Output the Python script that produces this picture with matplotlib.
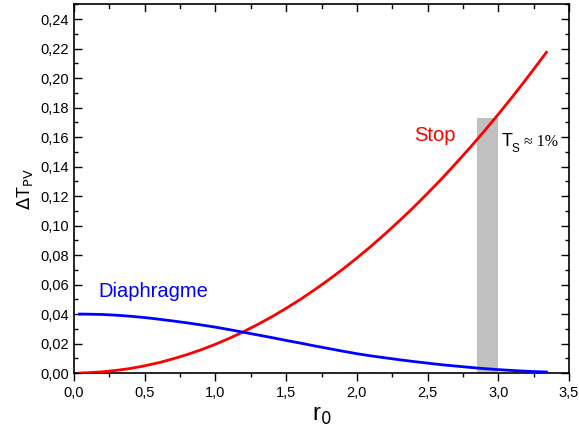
import numpy as np
import matplotlib.pyplot as plt
from matplotlib.ticker import MultipleLocator, FuncFormatter

plt.rcParams['font.family'] = ['Liberation Sans', 'DejaVu Sans']

# r0 positions where the curves were read
r0 = [0.04, 0.1, 0.2, 0.3, 0.4, 0.5, 0.6, 0.7, 0.8, 0.9, 1.0, 1.1, 1.2,
      1.3, 1.4, 1.5, 1.6, 1.7, 1.8, 1.9, 2.0, 2.1, 2.2, 2.3, 2.4, 2.5,
      2.6, 2.7, 2.8, 2.9, 3.0, 3.1, 3.2, 3.3, 3.34]
stop = [0.0000, 0.0002, 0.0008, 0.0018, 0.0031, 0.0049, 0.0070, 0.0096,
        0.0125, 0.0158, 0.0195, 0.0236, 0.0281, 0.0330, 0.0382, 0.0439,
        0.0499, 0.0564, 0.0632, 0.0704, 0.0780, 0.0860, 0.0944, 0.1032,
        0.1123, 0.1219, 0.1318, 0.1422, 0.1529, 0.1640, 0.1755, 0.1874,
        0.1997, 0.2124, 0.2175]
diaphragme = [0.0400, 0.0399, 0.0397, 0.0392, 0.0385, 0.0376, 0.0365,
              0.0353, 0.0340, 0.0326, 0.0311, 0.0294, 0.0276, 0.0258,
              0.0240, 0.0221, 0.0203, 0.0184, 0.0166, 0.0148, 0.0131,
              0.0116, 0.0103, 0.0090, 0.0078, 0.0067, 0.0056, 0.0047,
              0.0038, 0.0030, 0.0023, 0.0017, 0.0012, 0.0008, 0.0007]

# shaded band (Ts ~ 1%)
band_x = [2.85, 3.0]
band_top = 0.173

fig = plt.figure(figsize=(5.79, 4.43), dpi=100)
ax = fig.add_axes([0.1278, 0.158, 0.855, 0.832])

ax.bar((band_x[0] + band_x[1]) / 2, band_top, width=band_x[1] - band_x[0],
       color='#c0c0c0', zorder=1)
ax.plot(r0, stop, color='red', lw=2.0, zorder=3)
ax.plot(r0, diaphragme, color='blue', lw=2.0, zorder=3)

ax.set_xlim(0, 3.5)
ax.set_ylim(0, 0.25)
ax.xaxis.set_major_locator(MultipleLocator(0.5))
ax.xaxis.set_minor_locator(MultipleLocator(0.25))
ax.yaxis.set_major_locator(MultipleLocator(0.02))
ax.yaxis.set_minor_locator(MultipleLocator(0.01))
ax.xaxis.set_major_formatter(FuncFormatter(lambda v, p: ('%.1f' % v).replace('.', ',')))
ax.yaxis.set_major_formatter(FuncFormatter(lambda v, p: ('%.2f' % v).replace('.', ',')))

ax.tick_params(axis='y', which='both', direction='in', left=True, right=True, labelsize=10.5)
ax.tick_params(axis='x', which='both', direction='out', bottom=True, top=False, labelsize=10.5)
ax.tick_params(which='major', length=5.5, width=1)
ax.tick_params(which='minor', length=3, width=1)
# top ticks pointing inward
for v in np.arange(0, 3.51, 0.25):
    ax.plot([v, v], [0.25, 0.25 - (0.0045 if abs(v * 2 - round(v * 2)) < 1e-6 else 0.0025)],
            color='black', lw=1, clip_on=False, zorder=4)
for s in ax.spines.values():
    s.set_linewidth(1.2)

ax.set_xlabel('r$_0$', fontsize=17)
ax.set_ylabel(r'$\Delta$T$_{\rm PV}$', fontsize=13)

ax.text(2.55, 0.161, 'Stop', color='red', fontsize=14.5, ha='center', va='center')
ax.text(0.17, 0.055, 'Diaphragme', color='blue', fontsize=14.5, ha='left', va='center')
ax.text(3.025, 0.157, 'T', fontsize=13, ha='left', va='center')
ax.text(3.095, 0.152, 'S', fontsize=8.5, ha='left', va='center')
ax.text(3.18, 0.157, '\u2248 1%', fontsize=11.5, ha='left', va='center',
        family=['Liberation Serif', 'DejaVu Serif'])

fig.savefig('out.png', dpi=100)
